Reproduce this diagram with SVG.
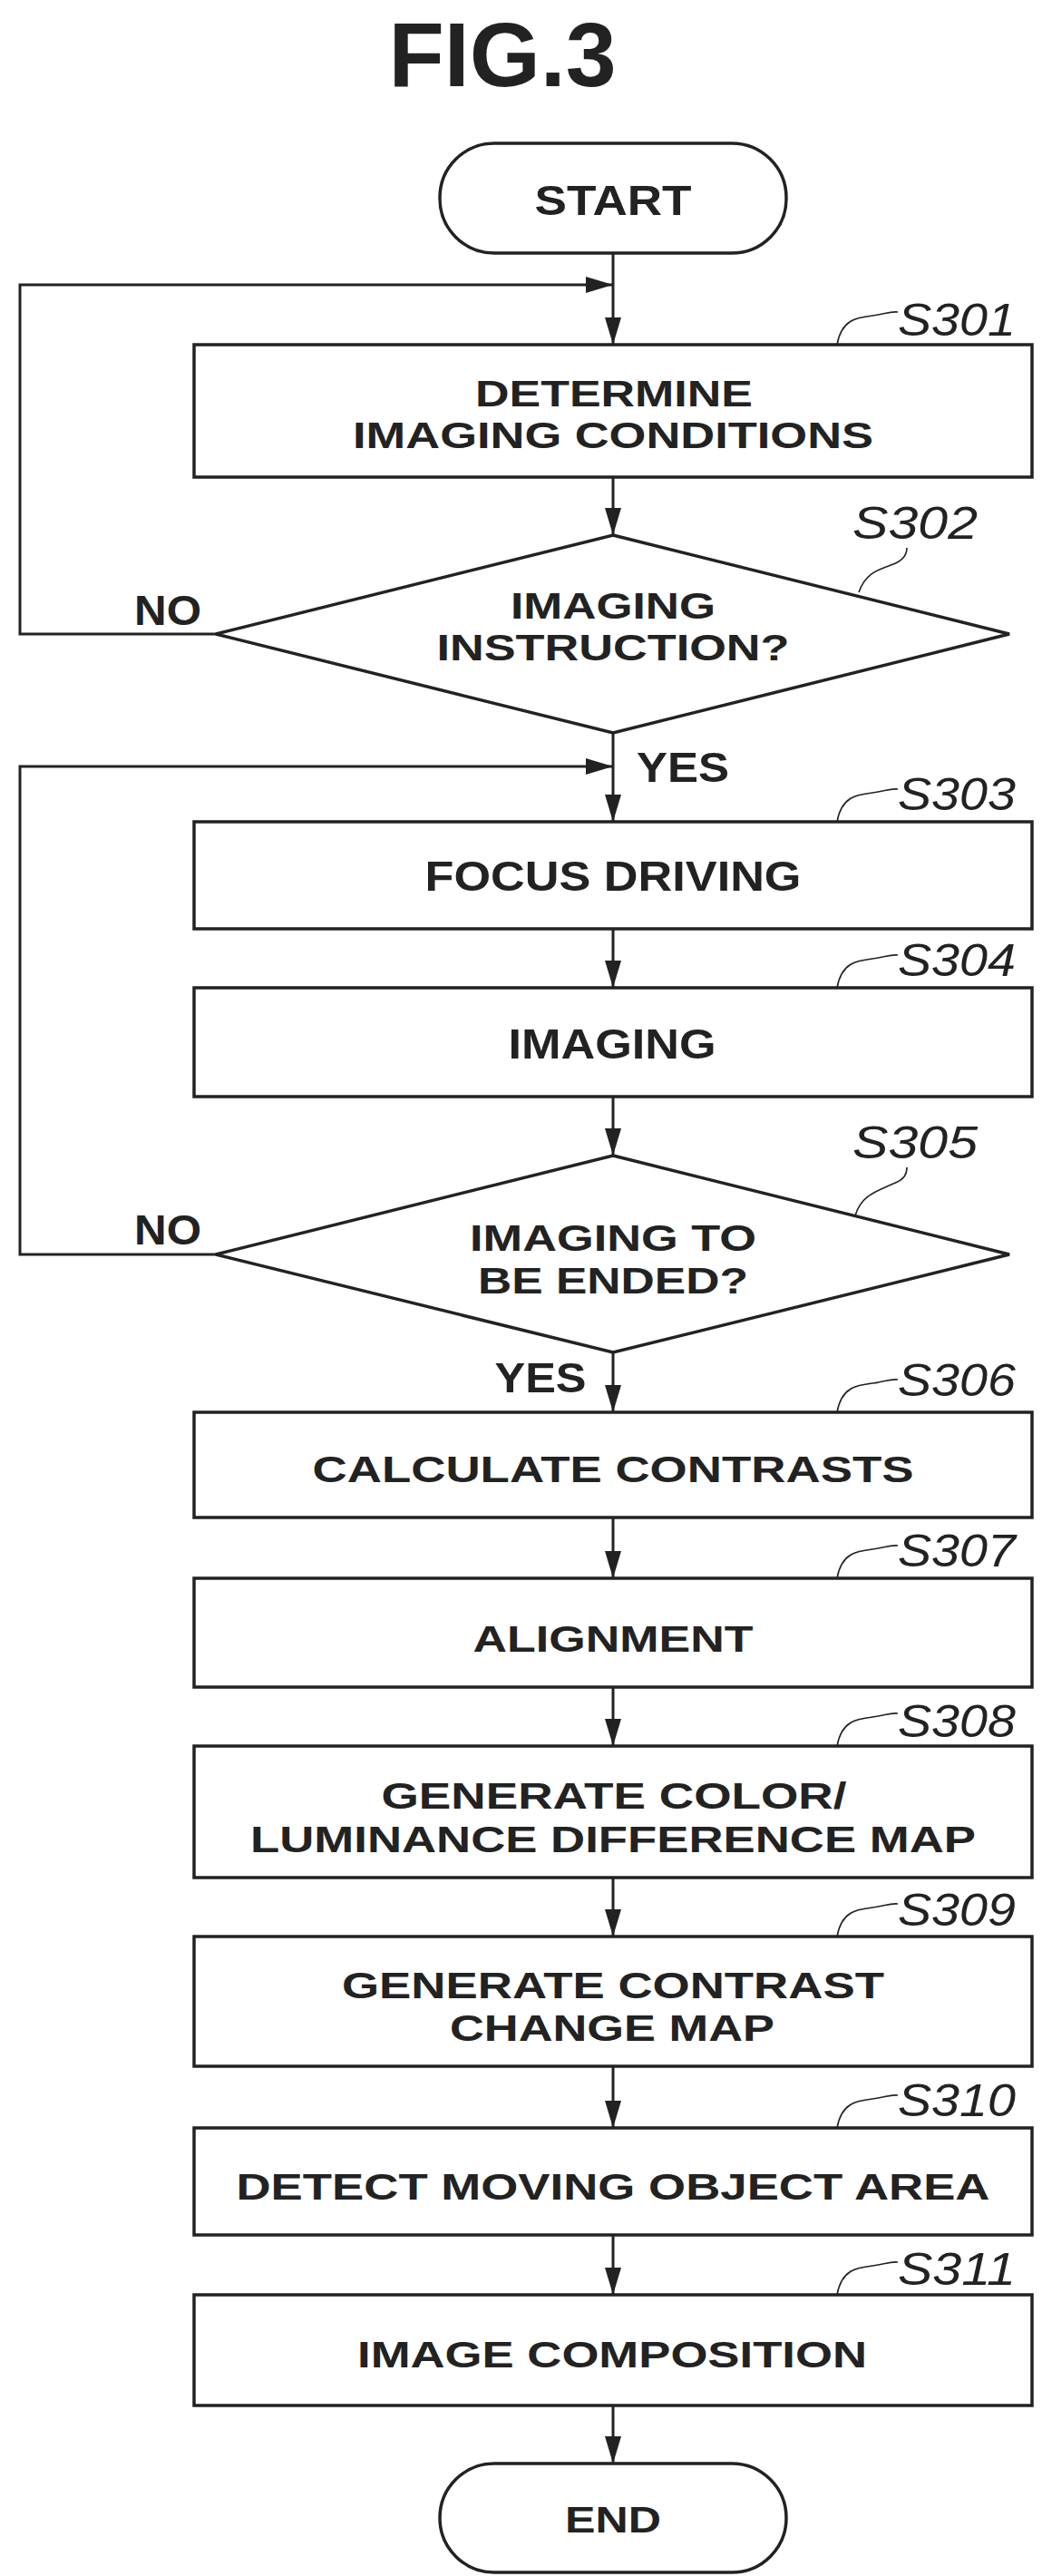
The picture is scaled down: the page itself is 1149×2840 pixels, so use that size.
<svg xmlns="http://www.w3.org/2000/svg" width="1149" height="2840" viewBox="0 0 1149 2840">
<style>
.s{fill:#fff;stroke:#222;stroke-width:3.5}
.c{fill:none;stroke:#222;stroke-width:3}
.l{fill:none;stroke:#222;stroke-width:1.6}
.n{font-family:"Liberation Sans",Arial,sans-serif;font-weight:bold;fill:#222;text-anchor:middle}
.u{font-size:46px}
.t{font-size:40px}
.w{font-size:40px}
.lb{font-family:"Liberation Sans",Arial,sans-serif;font-style:italic;font-size:50px;fill:#222}
</style>
<defs>
<marker id="a" viewBox="0 0 30 18" refX="30" refY="9" markerWidth="30" markerHeight="18" markerUnits="userSpaceOnUse" orient="auto"><path d="M0,0 L30,9 L0,18 Z" fill="#222"/></marker>
</defs>
<text x="554" y="95" class="n" font-size="100" textLength="251" lengthAdjust="spacingAndGlyphs">FIG.3</text>
<g id="connectors">
<path class="c" d="M676,279 V380" marker-end="url(#a)"/>
<path class="c" d="M240,699 H22 V314 H676" marker-end="url(#a)"/>
<path class="c" d="M676,526 V590" marker-end="url(#a)"/>
<path class="c" d="M676,808 V906" marker-end="url(#a)"/>
<path class="c" d="M240,1383 H22 V845 H676" marker-end="url(#a)"/>
<path class="c" d="M676,1024 V1089" marker-end="url(#a)"/>
<path class="c" d="M676,1209 V1274" marker-end="url(#a)"/>
<path class="c" d="M676,1491 V1557" marker-end="url(#a)"/>
<path class="c" d="M676,1673 V1740" marker-end="url(#a)"/>
<path class="c" d="M676,1860 V1925" marker-end="url(#a)"/>
<path class="c" d="M676,2070 V2135" marker-end="url(#a)"/>
<path class="c" d="M676,2278 V2346" marker-end="url(#a)"/>
<path class="c" d="M676,2464 V2530" marker-end="url(#a)"/>
<path class="c" d="M676,2652 V2716" marker-end="url(#a)"/>
<text x="185" y="689" class="n u" textLength="74" lengthAdjust="spacingAndGlyphs">NO</text>
<text x="753" y="862" class="n u" textLength="102" lengthAdjust="spacingAndGlyphs">YES</text>
<text x="185" y="1372" class="n u" textLength="74" lengthAdjust="spacingAndGlyphs">NO</text>
<text x="596" y="1535" class="n u" textLength="101" lengthAdjust="spacingAndGlyphs">YES</text>
</g>
<g id="start"><rect class="s" x="485" y="158" width="382" height="121" rx="60"/>
<text x="676" y="237" class="n u" textLength="173" lengthAdjust="spacingAndGlyphs">START</text></g>
<g id="s301"><rect class="s" x="214" y="380" width="924" height="146"/>
<text x="677" y="448" class="n t" textLength="306" lengthAdjust="spacingAndGlyphs">DETERMINE</text>
<text x="676" y="494" class="n t" textLength="574" lengthAdjust="spacingAndGlyphs">IMAGING CONDITIONS</text>
<path class="l" d="M923,380 C928,352 945,350 962,348 C975,347 980,343 990,344"/>
<text x="990" y="370" class="lb" textLength="130" lengthAdjust="spacingAndGlyphs">S301</text></g>
<g id="s302"><path class="s" d="M676,590 L1113,699 L676,808 L238,699 Z"/>
<text x="676" y="682" class="n t" textLength="226" lengthAdjust="spacingAndGlyphs">IMAGING</text>
<text x="676" y="728" class="n t" textLength="389" lengthAdjust="spacingAndGlyphs">INSTRUCTION?</text>
<path class="l" d="M947,653 C955,630 970,628 985,622 C998,617 1000,610 1000,604"/>
<text x="940" y="594" class="lb" textLength="138" lengthAdjust="spacingAndGlyphs">S302</text></g>
<g id="s303"><rect class="s" x="214" y="906" width="924" height="118"/>
<text x="676" y="982" class="n u" textLength="415" lengthAdjust="spacingAndGlyphs">FOCUS DRIVING</text>
<path class="l" d="M923,906 C928,878 945,876 962,874 C975,873 980,869 990,870"/>
<text x="990" y="893" class="lb" textLength="130" lengthAdjust="spacingAndGlyphs">S303</text></g>
<g id="s304"><rect class="s" x="214" y="1089" width="924" height="120"/>
<text x="675" y="1167" class="n u" textLength="229" lengthAdjust="spacingAndGlyphs">IMAGING</text>
<path class="l" d="M923,1089 C928,1061 945,1059 962,1057 C975,1056 980,1052 990,1053"/>
<text x="990" y="1076" class="lb" textLength="130" lengthAdjust="spacingAndGlyphs">S304</text></g>
<g id="s305"><path class="s" d="M676,1274 L1113,1383 L676,1491 L238,1383 Z"/>
<text x="676" y="1379" class="n t" textLength="316" lengthAdjust="spacingAndGlyphs">IMAGING TO</text>
<text x="676" y="1426" class="n t" textLength="298" lengthAdjust="spacingAndGlyphs">BE ENDED?</text>
<path class="l" d="M943,1340 C950,1318 965,1314 985,1305 C998,1300 1000,1294 1000,1287"/>
<text x="940" y="1277" class="lb" textLength="138" lengthAdjust="spacingAndGlyphs">S305</text></g>
<g id="s306"><rect class="s" x="214" y="1557" width="924" height="116"/>
<text x="676" y="1634" class="n w" textLength="663" lengthAdjust="spacingAndGlyphs">CALCULATE CONTRASTS</text>
<path class="l" d="M923,1557 C928,1529 945,1527 962,1525 C975,1524 980,1520 990,1521"/>
<text x="990" y="1539" class="lb" textLength="130" lengthAdjust="spacingAndGlyphs">S306</text></g>
<g id="s307"><rect class="s" x="214" y="1740" width="924" height="120"/>
<text x="676" y="1821" class="n w" textLength="309" lengthAdjust="spacingAndGlyphs">ALIGNMENT</text>
<path class="l" d="M923,1740 C928,1712 945,1710 962,1708 C975,1707 980,1703 990,1704"/>
<text x="990" y="1727" class="lb" textLength="130" lengthAdjust="spacingAndGlyphs">S307</text></g>
<g id="s308"><rect class="s" x="214" y="1925" width="924" height="145"/>
<text x="677" y="1994" class="n w" textLength="513" lengthAdjust="spacingAndGlyphs">GENERATE COLOR/</text>
<text x="676" y="2042" class="n w" textLength="800" lengthAdjust="spacingAndGlyphs">LUMINANCE DIFFERENCE MAP</text>
<path class="l" d="M923,1925 C928,1897 945,1895 962,1893 C975,1892 980,1888 990,1889"/>
<text x="990" y="1915" class="lb" textLength="130" lengthAdjust="spacingAndGlyphs">S308</text></g>
<g id="s309"><rect class="s" x="214" y="2135" width="924" height="143"/>
<text x="676" y="2203" class="n w" textLength="598" lengthAdjust="spacingAndGlyphs">GENERATE CONTRAST</text>
<text x="675" y="2250" class="n w" textLength="358" lengthAdjust="spacingAndGlyphs">CHANGE MAP</text>
<path class="l" d="M923,2135 C928,2107 945,2105 962,2103 C975,2102 980,2098 990,2099"/>
<text x="990" y="2123" class="lb" textLength="130" lengthAdjust="spacingAndGlyphs">S309</text></g>
<g id="s310"><rect class="s" x="214" y="2346" width="924" height="118"/>
<text x="676" y="2425" class="n w" textLength="831" lengthAdjust="spacingAndGlyphs">DETECT MOVING OBJECT AREA</text>
<path class="l" d="M923,2346 C928,2318 945,2316 962,2314 C975,2313 980,2309 990,2310"/>
<text x="990" y="2333" class="lb" textLength="130" lengthAdjust="spacingAndGlyphs">S310</text></g>
<g id="s311"><rect class="s" x="214" y="2530" width="924" height="122"/>
<text x="675" y="2610" class="n w" textLength="562" lengthAdjust="spacingAndGlyphs">IMAGE COMPOSITION</text>
<path class="l" d="M923,2530 C928,2502 945,2500 962,2498 C975,2497 980,2493 990,2494"/>
<text x="990" y="2519" class="lb" textLength="130" lengthAdjust="spacingAndGlyphs">S311</text></g>
<g id="end"><rect class="s" x="485" y="2716" width="382" height="120" rx="60"/>
<text x="676" y="2792" class="n w" textLength="106" lengthAdjust="spacingAndGlyphs">END</text></g>
</svg>
